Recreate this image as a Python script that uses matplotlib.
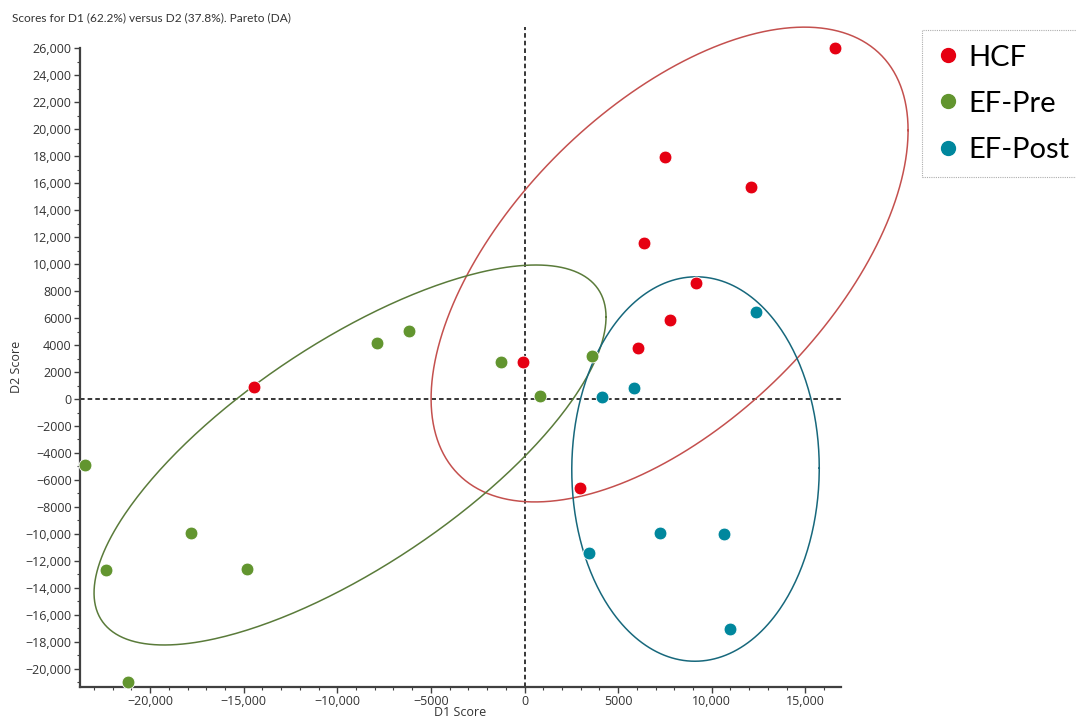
import matplotlib
matplotlib.use('Agg')
import matplotlib.pyplot as plt
import matplotlib.ticker as ticker
from matplotlib.lines import Line2D
import numpy as np

# Scores (D1, D2)
hcf_d1 = [16600, 7520, 12100, 6380, 9160, 7770, 6080, -100, -14450, 2980]
hcf_d2 = [26000, 17960, 15740, 11590, 8600, 5830, 3760, 2760, 910, -6580]

pre_d1 = [-1250, 3620, 830, -7900, -6150, -23460, -17800, -22340, -14840, -21170]
pre_d2 = [2760, 3210, 240, 4130, 5040, -4890, -9960, -12650, -12580, -21000]

post_d1 = [12370, 4140, 5830, 7240, 10660, 3450, 10980]
post_d2 = [6470, 150, 840, -9910, -9990, -11420, -17030]

# Group ellipses: centre, half extent along D1 / D2, correlation
ell_cx = [7750, -9320, 9135]
ell_cy = [9970, -4150, -5190]
ell_w = [12740, 13675, 6610]
ell_h = [17600, 14085, 14250]
ell_r = [0.565, 0.726, 0.005]

groups = ['HCF', 'EF-Pre', 'EF-Post']
PT_COLORS = ['#E60012', '#62952F', '#00879D']
ELL_COLORS = ['#C4504E', '#5A7B3A', '#17687C']
AXIS_COL = '#404040'
TEXT_COL = '#333333'

plt.rcParams['font.family'] = ['Open Sans', 'DejaVu Sans']

fig = plt.figure(figsize=(10.76, 7.18), dpi=100)
ax = fig.add_axes([80/1076, 1 - 687/718, (841 - 80)/1076, (687 - 27)/718])

ax.set_xlim(-23745, 16907)
ax.set_ylim(-21350, 27580)

# reference lines
ax.axhline(0, color='black', linestyle=(0, (3, 2)), linewidth=1.1, zorder=1)
ax.axvline(0, color='black', linestyle=(0, (3, 2)), linewidth=1.1, zorder=1)

# ellipses (not clipped: the HCF one runs past the axes)
t = np.linspace(0, 2 * np.pi, 400)
for i in range(3):
    ex = ell_cx[i] + ell_w[i] * np.cos(t)
    ey = ell_cy[i] + ell_h[i] * (ell_r[i] * np.cos(t) + np.sqrt(1 - ell_r[i]**2) * np.sin(t))
    ax.plot(ex, ey, color=ELL_COLORS[i], linewidth=1.1, zorder=2, clip_on=False)

# points
data = [(hcf_d1, hcf_d2), (pre_d1, pre_d2), (post_d1, post_d2)]
for i, (xs, ys) in enumerate(data):
    ax.scatter(xs, ys, s=85, color=PT_COLORS[i], edgecolors='white', linewidths=0.6,
               zorder=3, clip_on=False)

# axes styling
for side in ['top', 'right']:
    ax.spines[side].set_visible(False)
for side in ['left', 'bottom']:
    ax.spines[side].set_color(AXIS_COL)
    ax.spines[side].set_linewidth(1.6)
ax.spines['left'].set_bounds(-21350, 26000)


def fmt(v, p):
    v = int(round(v))
    s = f'{abs(v):,}' if abs(v) >= 10000 else f'{abs(v)}'
    return ('\u2212' + s) if v < 0 else s


ax.xaxis.set_major_locator(ticker.MultipleLocator(5000))
ax.xaxis.set_minor_locator(ticker.MultipleLocator(1000))
ax.set_yticks(list(range(-20000, 26001, 2000)))
ax.set_yticks(list(range(-21000, 26000, 2000)), minor=True)
ax.xaxis.set_major_formatter(ticker.FuncFormatter(fmt))
ax.yaxis.set_major_formatter(ticker.FuncFormatter(fmt))
ax.tick_params(axis='both', which='major', length=4, width=1, color=AXIS_COL,
               labelsize=9, labelcolor=TEXT_COL, direction='out', pad=2)
ax.tick_params(axis='both', which='minor', length=2.5, width=0.8, color=AXIS_COL, direction='out')

ax.set_xlabel('D1 Score', fontsize=9, color=TEXT_COL)
ax.xaxis.set_label_coords(0.5, -0.029)
ax.set_ylabel('D2 Score', fontsize=9, color=TEXT_COL)
ax.yaxis.set_label_coords(-0.075, 0.485)

fig.text(12/1076, 1 - 18/718, 'Scores for D1 (62.2%) versus D2 (37.8%). Pareto (DA)',
         fontsize=8.6, color=TEXT_COL, va='center', ha='left', family=['Lato', 'DejaVu Sans'])

handles = [Line2D([0], [0], marker='o', linestyle='none', markersize=10,
                  markerfacecolor=c, markeredgecolor=c) for c in PT_COLORS]
leg = fig.legend(handles, groups, loc='upper left', bbox_to_anchor=(922/1076, 1 - 30/718),
                 frameon=True, fancybox=False, prop={'family': ['Lato', 'DejaVu Sans'], 'size': 21},
                 handletextpad=0.3, labelspacing=0.69, borderpad=0.5, handlelength=0.8,
                 borderaxespad=0)
frame = leg.get_frame()
frame.set_edgecolor('#999999')
frame.set_linestyle((0, (1, 1)))
frame.set_linewidth(0.8)

fig.savefig('out.png', dpi=100, facecolor='white')
